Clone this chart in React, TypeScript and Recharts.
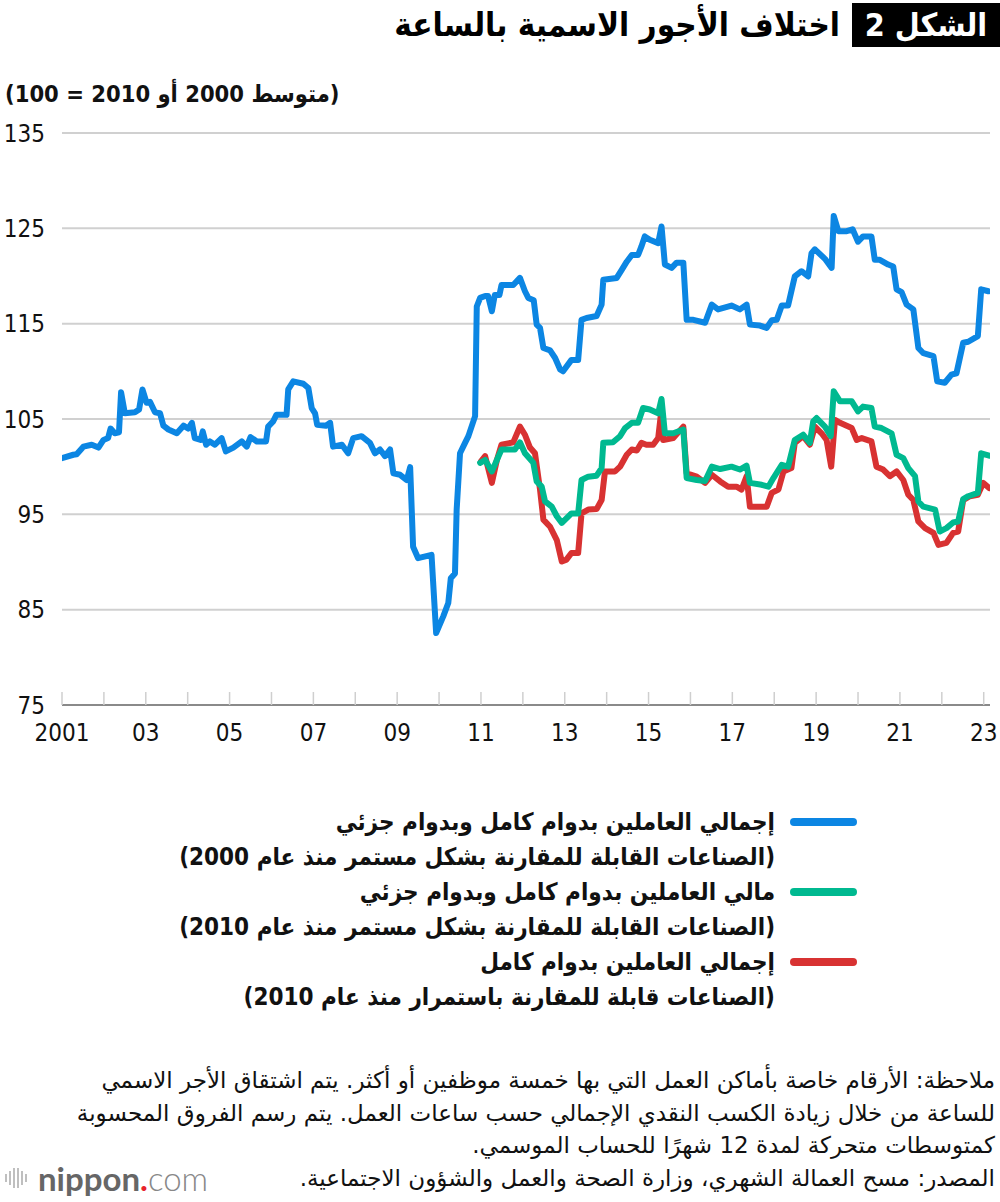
import { CartesianGrid, Line, LineChart, XAxis, YAxis } from "recharts";

// الإجمالي، بدوام كامل وجزئي (منذ 2000) — [سنة, قيمة]
const totalAll2000: [number, number][] = [
  [2001.0, 100.9], [2001.27, 101.25], [2001.35, 101.3], [2001.51, 102.1], [2001.71, 102.3],
  [2001.87, 102.0], [2001.99, 102.8], [2002.1, 103.0], [2002.16, 104.0], [2002.26, 103.5],
  [2002.36, 103.6], [2002.41, 107.8], [2002.5, 105.6], [2002.74, 105.7], [2002.84, 106.0],
  [2002.92, 108.1], [2003.02, 106.7], [2003.1, 106.8], [2003.22, 105.7], [2003.34, 105.6],
  [2003.42, 104.3], [2003.54, 103.9], [2003.74, 103.5], [2003.9, 104.3], [2004.01, 104.0],
  [2004.1, 104.6], [2004.17, 103.0], [2004.31, 102.8], [2004.36, 103.7], [2004.44, 102.3],
  [2004.53, 102.65], [2004.65, 102.3], [2004.81, 103.0], [2004.91, 101.6], [2005.09, 102.0],
  [2005.29, 102.65], [2005.41, 102.1], [2005.5, 103.1], [2005.65, 102.65], [2005.87, 102.65],
  [2005.92, 104.2], [2006.04, 104.75], [2006.12, 105.45], [2006.36, 105.45], [2006.4, 108.1],
  [2006.52, 108.95], [2006.76, 108.7], [2006.88, 108.25], [2006.96, 106.15], [2007.04, 105.6],
  [2007.09, 104.4], [2007.3, 104.3], [2007.4, 104.6], [2007.47, 102.1], [2007.68, 102.3],
  [2007.83, 101.4], [2007.95, 103.0], [2008.15, 103.2], [2008.35, 102.5], [2008.47, 101.4],
  [2008.59, 101.8], [2008.71, 101.1], [2008.83, 101.8], [2008.91, 99.3], [2009.07, 99.15],
  [2009.23, 98.6], [2009.31, 99.95], [2009.38, 91.6], [2009.5, 90.4], [2009.82, 90.75],
  [2009.93, 82.55], [2010.1, 84.3], [2010.22, 85.7], [2010.28, 88.3], [2010.38, 88.8],
  [2010.42, 95.5], [2010.5, 101.4], [2010.62, 102.5], [2010.7, 103.2], [2010.86, 105.3],
  [2010.9, 116.8], [2010.98, 117.7], [2011.1, 117.9], [2011.17, 117.9], [2011.26, 116.3],
  [2011.33, 118.0], [2011.44, 118.0], [2011.49, 119.05], [2011.77, 119.05], [2011.93, 119.8],
  [2012.05, 118.4], [2012.13, 117.7], [2012.26, 117.45], [2012.33, 114.9], [2012.41, 114.55],
  [2012.49, 112.45], [2012.65, 112.2], [2012.77, 111.4], [2012.89, 110.2], [2012.96, 110.0],
  [2013.16, 111.2], [2013.32, 111.2], [2013.4, 115.4], [2013.52, 115.6], [2013.76, 115.8],
  [2013.88, 117.0], [2013.92, 119.6], [2014.24, 119.8], [2014.36, 120.65], [2014.48, 121.5],
  [2014.6, 122.2], [2014.75, 122.2], [2014.83, 123.1], [2014.91, 124.15], [2015.03, 123.8],
  [2015.23, 123.45], [2015.31, 125.2], [2015.39, 121.2], [2015.55, 120.85], [2015.67, 121.4],
  [2015.83, 121.4], [2015.91, 115.4], [2016.07, 115.4], [2016.35, 115.1], [2016.51, 117.0],
  [2016.66, 116.5], [2016.98, 116.9], [2017.18, 116.5], [2017.34, 117.0], [2017.42, 114.9],
  [2017.66, 114.8], [2017.82, 114.55], [2017.94, 115.35], [2018.06, 115.4], [2018.18, 116.9],
  [2018.33, 116.9], [2018.49, 119.95], [2018.65, 120.5], [2018.81, 119.95], [2018.89, 122.4],
  [2018.97, 122.8], [2019.21, 121.8], [2019.37, 120.85], [2019.42, 126.3], [2019.53, 124.7],
  [2019.73, 124.7], [2019.87, 124.9], [2020.0, 123.6], [2020.12, 124.15], [2020.32, 124.15],
  [2020.4, 121.7], [2020.52, 121.7], [2020.72, 121.2], [2020.84, 121.0], [2020.92, 118.6],
  [2021.04, 118.3], [2021.16, 117.0], [2021.32, 116.5], [2021.44, 112.45], [2021.56, 111.9],
  [2021.8, 111.6], [2021.89, 108.95], [2022.07, 108.8], [2022.23, 109.65], [2022.35, 109.8],
  [2022.51, 113.0], [2022.63, 113.1], [2022.86, 113.7], [2022.94, 118.6], [2023.11, 118.4],
];

// الإجمالي، بدوام كامل وجزئي (منذ 2010)
const totalAll2010: [number, number][] = [
  [2010.98, 100.4], [2011.1, 100.7], [2011.26, 99.5], [2011.38, 100.7], [2011.49, 101.8],
  [2011.81, 101.8], [2011.93, 102.55], [2012.05, 101.4], [2012.25, 100.4], [2012.33, 98.45],
  [2012.45, 97.9], [2012.53, 96.35], [2012.69, 95.8], [2012.81, 94.8], [2012.93, 94.1],
  [2013.16, 95.1], [2013.32, 95.1], [2013.4, 98.6], [2013.56, 98.95], [2013.76, 99.05],
  [2013.88, 99.85], [2013.92, 102.5], [2014.15, 102.55], [2014.32, 103.2], [2014.44, 104.05],
  [2014.6, 104.6], [2014.75, 104.6], [2014.87, 106.15], [2015.03, 106.0], [2015.23, 105.6],
  [2015.31, 107.1], [2015.39, 103.5], [2015.59, 103.5], [2015.83, 103.9], [2015.91, 98.8],
  [2016.15, 98.6], [2016.35, 98.5], [2016.51, 100.0], [2016.71, 99.75], [2016.98, 100.0],
  [2017.18, 99.7], [2017.34, 100.1], [2017.42, 98.3], [2017.7, 98.1], [2017.86, 97.9],
  [2017.98, 98.8], [2018.18, 100.2], [2018.33, 100.0], [2018.49, 102.8], [2018.69, 103.35],
  [2018.85, 102.5], [2018.93, 104.75], [2019.01, 105.1], [2019.21, 104.2], [2019.35, 103.2],
  [2019.42, 107.9], [2019.57, 106.85], [2019.85, 106.85], [2020.0, 105.8], [2020.12, 106.3],
  [2020.32, 106.15], [2020.4, 104.2], [2020.56, 104.05], [2020.8, 103.5], [2020.92, 101.25],
  [2021.08, 100.9], [2021.2, 99.85], [2021.36, 99.0], [2021.44, 96.35], [2021.56, 95.8],
  [2021.84, 95.5], [2021.95, 93.2], [2022.11, 93.55], [2022.27, 94.15], [2022.39, 94.25],
  [2022.51, 96.6], [2022.63, 96.9], [2022.86, 97.25], [2022.94, 101.4], [2023.13, 101.15],
];

// بدوام كامل (منذ 2010)
const fullTime2010: [number, number][] = [
  [2011.0, 100.55], [2011.1, 101.1], [2011.26, 98.3], [2011.38, 100.7], [2011.49, 102.3],
  [2011.77, 102.55], [2011.93, 104.2], [2012.05, 103.35], [2012.17, 102.0], [2012.29, 101.4],
  [2012.41, 97.6], [2012.49, 94.45], [2012.65, 93.7], [2012.81, 92.3], [2012.93, 90.05],
  [2013.04, 90.25], [2013.16, 90.95], [2013.32, 90.95], [2013.4, 95.1], [2013.56, 95.5],
  [2013.76, 95.55], [2013.88, 96.5], [2013.96, 99.5], [2014.2, 99.5], [2014.32, 100.0],
  [2014.48, 101.25], [2014.6, 101.8], [2014.72, 101.7], [2014.83, 102.5], [2014.95, 102.3],
  [2015.11, 102.3], [2015.23, 103.0], [2015.29, 105.3], [2015.35, 102.8], [2015.59, 103.0],
  [2015.83, 104.2], [2015.91, 99.3], [2016.15, 98.95], [2016.35, 98.3], [2016.51, 99.15],
  [2016.71, 98.45], [2016.9, 97.9], [2017.1, 97.9], [2017.22, 97.6], [2017.34, 99.0],
  [2017.42, 95.8], [2017.82, 95.8], [2017.94, 97.25], [2018.1, 97.6], [2018.22, 99.5],
  [2018.41, 99.85], [2018.49, 102.5], [2018.69, 103.2], [2018.85, 102.3], [2018.97, 104.2],
  [2019.13, 103.5], [2019.25, 102.8], [2019.36, 100.0], [2019.45, 104.9], [2019.57, 104.6],
  [2019.85, 104.05], [2019.97, 102.8], [2020.09, 103.0], [2020.32, 102.65], [2020.44, 100.0],
  [2020.6, 99.7], [2020.76, 99.0], [2020.92, 99.5], [2021.08, 98.6], [2021.2, 97.05],
  [2021.32, 96.5], [2021.44, 94.25], [2021.6, 93.55], [2021.8, 93.05], [2021.92, 91.8],
  [2022.11, 92.0], [2022.27, 93.05], [2022.39, 93.2], [2022.51, 96.5], [2022.67, 96.9],
  [2022.86, 97.05], [2022.99, 98.3], [2023.13, 97.75],
];

const yearTicks = [
  2001, 2002, 2003, 2004, 2005, 2006, 2007, 2008, 2009, 2010, 2011, 2012,
  2013, 2014, 2015, 2016, 2017, 2018, 2019, 2020, 2021, 2022, 2023,
];
const yTicks = [75, 85, 95, 105, 115, 125, 135];

const legendItems = [
  {
    color: "#0C86E3",
    line1: "إجمالي العاملين بدوام كامل وبدوام جزئي",
    line2: "(الصناعات القابلة للمقارنة بشكل مستمر منذ عام 2000)",
  },
  {
    color: "#00B990",
    line1: "مالي العاملين بدوام كامل وبدوام جزئي",
    line2: "(الصناعات القابلة للمقارنة بشكل مستمر منذ عام 2010)",
  },
  {
    color: "#D83232",
    line1: "إجمالي العاملين بدوام كامل",
    line2: "(الصناعات قابلة للمقارنة باستمرار منذ عام 2010)",
  },
];

const noteLines = [
  "ملاحظة: الأرقام خاصة بأماكن العمل التي بها خمسة موظفين أو أكثر. يتم اشتقاق الأجر الاسمي",
  "للساعة من خلال زيادة الكسب النقدي الإجمالي حسب ساعات العمل. يتم رسم الفروق المحسوبة",
  "كمتوسطات متحركة لمدة 12 شهرًا للحساب الموسمي.",
  "المصدر: مسح العمالة الشهري، وزارة الصحة والعمل والشؤون الاجتماعية.",
];

const toRows = (pts: [number, number][]) => pts.map(([t, v]) => ({ t, v }));

const AR = '"DejaVu Sans Condensed", "DejaVu Sans", sans-serif';
const AR_WIDE = '"DejaVu Sans", sans-serif';
const NUM = '"Liberation Sans Narrow", "DejaVu Sans Condensed", sans-serif';

function YearTick({ x, y, payload }: any) {
  const yr: number = payload.value;
  if (yr % 2 === 0) {
    return <line x1={x} x2={x} y1={y} y2={y - 13} stroke="#cfcfcf" strokeWidth={1.5} />;
  }
  const label = yr === 2001 ? "2001" : String(yr).slice(2);
  return (
    <g>
      <line x1={x} x2={x} y1={y} y2={y - 13} stroke="#cfcfcf" strokeWidth={1.5} />
      <text x={x} y={y + 36} textAnchor="middle" fontFamily={NUM} fontSize={24} fill="#111">
        {label}
      </text>
    </g>
  );
}

export default function App() {
  return (
    <div
      style={{
        position: "absolute",
        left: 0,
        top: 0,
        width: 1000,
        height: 1202,
        background: "#fff",
        overflow: "hidden",
      }}
    >
      {/* العنوان */}
      <div
        style={{
          position: "absolute",
          left: 852,
          top: 3,
          width: 148,
          height: 44,
          background: "#000",
          color: "#fff",
          fontFamily: AR,
          fontWeight: 700,
          fontSize: 32,
          lineHeight: "44px",
          textAlign: "center",
          direction: "rtl",
        }}
      >
        الشكل 2
      </div>
      <div
        style={{
          position: "absolute",
          right: 160,
          top: 3,
          height: 44,
          fontFamily: AR,
          fontWeight: 700,
          fontSize: 33,
          lineHeight: "44px",
          direction: "rtl",
          whiteSpace: "nowrap",
          color: "#000",
        }}
      >
        اختلاف الأجور الاسمية بالساعة
      </div>
      <div
        style={{
          position: "absolute",
          left: 5,
          top: 79,
          fontFamily: AR,
          fontWeight: 700,
          fontSize: 23.5,
          lineHeight: "30px",
          direction: "rtl",
          whiteSpace: "nowrap",
          color: "#111",
        }}
      >
        (متوسط 2000 أو 2010 = 100)
      </div>

      <div style={{ position: "absolute", left: 0, top: 0 }}>
        <LineChart width={1000} height={770} margin={{ top: 133, right: 10, bottom: 0, left: 0 }}>
          <CartesianGrid vertical={false} stroke="#d0d0d0" strokeWidth={2} />
          <XAxis
            type="number"
            dataKey="t"
            domain={[2001, 2023.15]}
            ticks={yearTicks}
            interval={0}
            height={65}
            tickSize={0}
            tickMargin={0}
            axisLine={{ stroke: "#8a8a8a", strokeWidth: 2 }}
            tick={<YearTick />}
            allowDataOverflow
          />
          <YAxis
            type="number"
            domain={[75, 135]}
            ticks={yTicks}
            width={62}
            axisLine={false}
            tickLine={false}
            tickSize={0}
            tickMargin={17}
            tick={{ fontFamily: NUM, fontSize: 24, fill: "#111" }}
          />
          <Line
            data={toRows(totalAll2000)}
            dataKey="v"
            type="linear"
            stroke="#0C86E3"
            strokeWidth={6}
            strokeLinejoin="round"
            strokeLinecap="round"
            dot={false}
            isAnimationActive={false}
          />
          <Line
            data={toRows(fullTime2010)}
            dataKey="v"
            type="linear"
            stroke="#D83232"
            strokeWidth={6}
            strokeLinejoin="round"
            strokeLinecap="round"
            dot={false}
            isAnimationActive={false}
          />
          <Line
            data={toRows(totalAll2010)}
            dataKey="v"
            type="linear"
            stroke="#00B990"
            strokeWidth={6}
            strokeLinejoin="round"
            strokeLinecap="round"
            dot={false}
            isAnimationActive={false}
          />
        </LineChart>
      </div>

      {/* وسيلة الإيضاح */}
      {legendItems.map((it, i) => {
        const top = 805 + i * 70;
        return (
          <div key={i}>
            <div
              style={{
                position: "absolute",
                left: 790,
                top: top + 13,
                width: 67,
                height: 8,
                borderRadius: 4,
                background: it.color,
              }}
            />
            <div
              style={{
                position: "absolute",
                right: 225,
                top,
                fontFamily: AR,
                fontWeight: 700,
                fontSize: 24,
                lineHeight: "35px",
                direction: "rtl",
                textAlign: "right",
                whiteSpace: "nowrap",
                color: "#111",
              }}
            >
              <div>{it.line1}</div>
              <div>{it.line2}</div>
            </div>
          </div>
        );
      })}

      {/* الملاحظات */}
      <div
        style={{
          position: "absolute",
          right: 5,
          top: 1064,
          fontFamily: AR_WIDE,
          fontSize: 23,
          lineHeight: "32.5px",
          direction: "rtl",
          textAlign: "right",
          whiteSpace: "nowrap",
          color: "#111",
        }}
      >
        {noteLines.map((l, i) => (
          <div key={i}>{l}</div>
        ))}
      </div>

      {/* الشعار */}
      <div
        style={{
          position: "absolute",
          left: 4,
          top: 1160,
          display: "flex",
          alignItems: "center",
          height: 36,
        }}
      >
        <svg width={26} height={24} style={{ marginRight: 8 }}>
          {[0, 4, 8, 12, 16, 20].map((dx, k) => (
            <line
              key={k}
              x1={dx + 2}
              x2={dx + 2}
              y1={[8, 5, 2, 2, 5, 8][k]}
              y2={[16, 19, 22, 22, 19, 16][k]}
              stroke="#aaa"
              strokeWidth={1.5}
            />
          ))}
        </svg>
        <span style={{ fontFamily: "Lato, 'Open Sans', sans-serif", fontSize: 33, color: "#666", fontWeight: 700 }}>
          nippon
        </span>
        <span style={{ fontFamily: "Lato, 'Open Sans', sans-serif", fontSize: 33, color: "#e8232a", fontWeight: 700 }}>
          .
        </span>
        <span style={{ fontFamily: "Lato, 'Open Sans', sans-serif", fontSize: 33, color: "#888", fontWeight: 300 }}>
          com
        </span>
      </div>
    </div>
  );
}
